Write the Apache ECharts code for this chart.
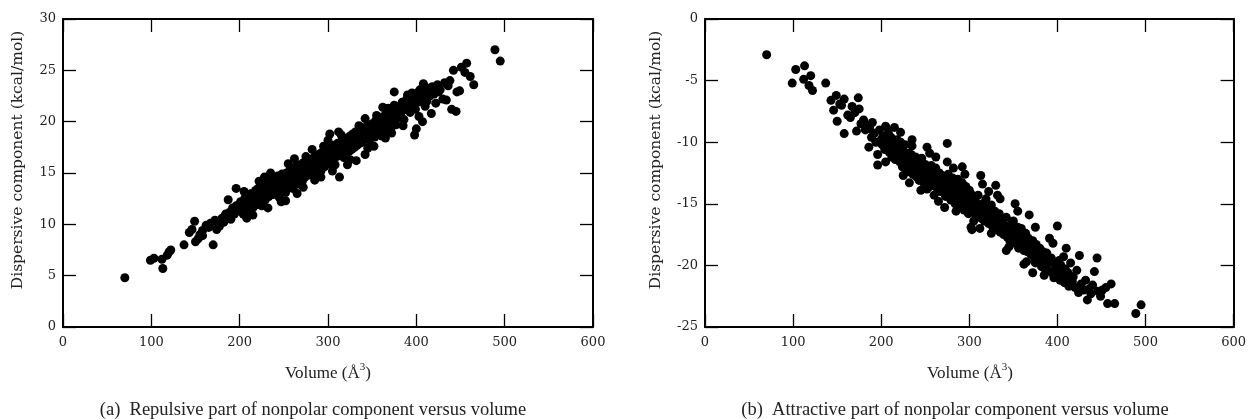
<!DOCTYPE html>
<html>
<head>
<meta charset="utf-8">
<script src="https://cdn.jsdelivr.net/npm/echarts@6/dist/echarts.min.js"></script>
<style>
html,body{margin:0;padding:0;background:#fff;}
#chart{width:1249px;height:419px;}
</style>
</head>
<body>
<div id="chart"></div>
<script>
// Volumes (Å^3) of the molecules, shared by both panels
const volume = [
70,99,103,112,113,118,120,122,137,143,146,149,150,153,155,158,158,162,165,167,
170,172,174,175,177,180,182,184,186,187,189,190,192,194,196,196,198,200,201,202,
204,205,206,207,208,209,210,211,212,213,214,215,216,217,218,219,220,221,222,223,
224,225,226,227,228,229,230,231,232,233,234,235,236,237,238,239,240,241,242,243,
244,245,246,247,248,249,250,251,252,253,254,255,256,257,258,259,260,261,262,263,
264,265,266,267,268,269,270,271,272,273,274,275,276,277,278,279,280,281,282,283,
284,285,286,287,288,289,290,291,292,293,294,295,296,297,298,299,300,300,301,302,
303,304,305,306,307,308,309,310,311,312,313,314,315,316,317,318,319,320,321,322,
323,324,325,326,327,328,329,330,331,332,333,334,335,336,337,338,339,340,341,342,
343,344,345,346,347,348,349,350,352,353,354,355,356,357,358,359,360,361,362,364,
365,366,367,368,369,370,372,373,374,375,376,377,378,380,381,382,384,385,386,388,
389,390,391,393,394,396,397,398,399,400,401,402,403,404,406,407,408,409,410,411,
412,413,415,417,418,420,422,424,425,427,430,432,434,436,438,440,442,445,446,449,
451,455,457,461,465,489,495,
205,215,225,235,245,255,265,275,285,295,305,315,325,335,345,355,365,375,385,395,
222,232,262,272,292,312,322,342,352,362,252,282,302,332,372
];
// (a) Repulsive part (kcal/mol)
const repulsive = [
4.8,6.5,6.7,6.6,5.7,7.0,7.3,7.5,8.0,9.2,9.5,10.3,8.3,8.6,9.0,8.9,9.4,9.9,9.7,10.1,
8.0,10.4,9.5,10.2,9.8,10.6,10.2,11.0,10.7,12.4,11.2,10.5,11.6,11.0,13.5,11.8,11.3,11.9,12.2,11.5,
11.0,12.4,11.7,12.8,10.6,12.0,11.4,12.6,11.9,13.0,12.2,11.6,12.9,12.4,13.3,11.9,12.7,13.5,12.1,13.0,
12.5,13.8,12.8,13.2,14.6,12.4,13.6,13.0,14.1,12.7,13.4,14.3,13.1,13.8,12.9,14.5,13.5,14.0,13.2,14.7,
13.7,14.2,13.4,12.2,14.9,14.0,13.6,14.4,13.1,15.0,14.2,13.8,14.6,15.3,14.0,14.8,13.5,15.1,14.4,15.6,
14.7,13.9,15.2,14.5,15.8,14.9,15.4,14.2,16.0,15.1,14.6,15.7,15.0,16.2,15.4,14.8,15.9,15.3,16.4,15.0,
15.8,16.6,15.5,16.1,14.9,16.8,15.7,16.3,15.2,17.0,16.0,16.5,15.6,17.2,16.2,16.8,18.2,15.9,16.6,17.4,
16.1,17.0,16.4,17.7,16.8,15.8,17.3,16.6,17.9,17.1,14.6,16.9,17.6,18.2,17.2,16.5,18.0,17.5,16.9,18.4,
17.7,17.1,18.6,17.9,17.3,18.8,18.1,17.5,19.0,18.3,17.7,18.9,18.5,17.9,19.2,18.6,18.0,19.4,18.8,16.8,
19.0,18.4,19.6,18.9,18.2,19.3,18.7,19.8,19.1,18.5,20.1,19.4,18.9,19.9,19.3,20.4,19.6,18.6,20.2,19.8,
20.7,19.2,20.3,21.3,19.9,20.5,19.5,20.9,20.1,22.9,20.6,19.7,21.2,20.4,21.5,20.8,21.9,21.1,20.2,21.7,
22.2,22.6,21.4,20.9,22.0,21.6,22.4,18.7,21.2,19.3,22.8,21.9,20.5,23.1,22.3,20.0,23.7,22.6,21.5,23.3,
22.0,23.0,22.5,20.8,23.4,22.7,21.8,23.6,22.9,23.1,22.2,23.8,22.1,23.5,24.0,21.2,25.0,21.0,22.9,23.0,
25.3,24.8,25.7,24.4,23.6,27.0,25.9,
13.2,10.9,11.8,15.0,12.6,15.9,13.0,16.6,14.3,17.6,15.2,18.7,16.3,19.6,17.4,20.6,18.4,21.6,19.6,22.8,
14.2,11.6,16.4,13.6,14.6,19.0,15.8,20.3,17.6,21.4,12.3,17.3,18.8,16.2,18.9
];
// (b) Attractive part (kcal/mol)
const attractive = [
-2.9,-5.2,-4.1,-4.9,-3.8,-5.4,-4.6,-5.8,-5.2,-6.6,-7.4,-6.2,-8.3,-6.9,-7.0,-6.5,-9.3,-7.8,-8.0,-7.1,
-7.6,-9.1,-6.4,-7.3,-8.5,-8.2,-9.0,-8.6,-10.4,-8.9,-9.6,-8.4,-9.3,-10.0,-11.0,-11.85,-9.0,-9.8,-10.2,-9.5,
-10.6,-8.7,-9.9,-10.4,-9.2,-10.8,-10.1,-9.6,-11.2,-10.5,-9.9,-10.9,-11.4,-10.3,-9.8,-11.0,-10.6,-11.6,-10.0,-11.1,
-12.0,-10.7,-11.5,-10.2,-11.9,-11.3,-12.4,-10.9,-11.7,-12.2,-11.0,-9.8,-12.6,-11.4,-12.0,-11.2,-12.8,-11.6,-12.3,-13.1,
-11.9,-12.6,-11.3,-12.9,-12.1,-13.4,-11.8,-12.5,-10.4,-13.0,-12.2,-13.6,-12.7,-11.9,-13.2,-12.4,-14.3,-13.0,-12.1,-13.7,
-12.8,-13.4,-12.5,-14.0,-13.1,-12.7,-13.8,-13.3,-12.9,-14.4,-13.5,-10.1,-12.6,-14.1,-13.2,-14.7,-13.6,-12.9,-14.3,-13.9,
-15.0,-13.4,-14.6,-13.0,-14.2,-15.2,-13.8,-14.5,-13.3,-14.9,-15.5,-14.0,-13.6,-15.1,-14.4,-15.8,-13.9,-14.7,-15.3,-14.2,
-17.1,-15.0,-14.5,-15.6,-14.8,-16.0,-15.2,-14.3,-15.9,-15.4,-12.7,-16.2,-15.0,-15.7,-16.4,-15.3,-14.6,-16.0,-15.5,-16.6,
-15.8,-16.3,-15.1,-16.8,-15.9,-16.5,-15.6,-13.5,-17.0,-16.2,-16.9,-15.8,-17.3,-16.4,-17.0,-16.6,-17.5,-16.8,-17.2,-16.1,
-17.7,-16.9,-17.4,-18.0,-16.7,-17.6,-17.1,-16.4,-18.2,-17.3,-17.9,-16.9,-18.6,-17.5,-18.1,-17.0,-18.4,-17.7,-18.8,-17.4,
-18.2,-18.9,-17.8,-15.9,-18.5,-19.1,-18.0,-18.7,-19.4,-19.8,-18.3,-19.0,-19.6,-18.6,-19.2,-20.1,-18.9,-19.5,-20.3,-19.0,
-19.8,-20.4,-17.8,-19.4,-20.6,-21.0,-19.9,-20.7,-20.2,-16.8,-20.5,-19.6,-21.2,-20.0,-20.8,-19.3,-21.4,-20.3,-18.6,-21.0,
-20.6,-21.7,-19.8,-21.3,-20.9,-21.8,-20.4,-22.2,-19.2,-21.5,-22.0,-21.2,-22.8,-21.9,-22.3,-21.6,-20.5,-19.4,-22.1,-22.5,
-22.0,-21.8,-23.1,-21.5,-23.1,-23.9,-23.2,
-11.6,-8.8,-12.7,-10.3,-13.9,-10.9,-14.8,-11.6,-15.6,-12.6,-16.4,-13.4,-17.4,-14.6,-18.5,-15.6,-19.7,-16.9,-20.8,-18.2,
-9.2,-13.3,-11.2,-15.3,-12.0,-17.0,-14.0,-18.8,-15.0,-19.9,-13.8,-12.1,-16.9,-14.3,-20.6
];
const xTicks = [0,100,200,300,400,500,600];
const yTicksA = [0,5,10,15,20,25,30];
const yTicksB = [-25,-20,-15,-10,-5,0];
const captionA = '(a)  Repulsive part of nonpolar component versus volume';
const captionB = '(b)  Attractive part of nonpolar component versus volume';
const yName = 'Dispersive component (kcal/mol)';

const ptsA = volume.map((v,i)=>[v, repulsive[i]]);
const ptsB = volume.map((v,i)=>[v, attractive[i]]);

const labelFont = 'DejaVu Serif';
const capFont = 'Liberation Serif';
const lineStyle = {color:'#000', width:2};
const tickStyle = {color:'#000', width:1.3};

function xAx(grid, pos, labels){
  return {
    type:'value', gridIndex:grid, position:pos, min:xTicks[0], max:xTicks[xTicks.length-1], interval:100,
    axisLine:{show:true, onZero:false, lineStyle:lineStyle},
    axisTick:{show:true, inside:true, length:13, lineStyle:tickStyle},
    axisLabel:{show:labels, color:'#222', fontFamily:labelFont, fontSize:13, margin:9},
    splitLine:{show:false}
  };
}
function yAx(grid, pos, labels, ticks){
  return {
    type:'value', gridIndex:grid, position:pos, min:ticks[0], max:ticks[ticks.length-1], interval:5,
    axisLine:{show:true, onZero:false, lineStyle:lineStyle},
    axisTick:{show:true, inside:true, length:13, lineStyle:tickStyle},
    axisLabel:{show:labels, color:'#222', fontFamily:labelFont, fontSize:13, margin:7},
    splitLine:{show:false}
  };
}

const chart = echarts.init(document.getElementById('chart'));
chart.setOption({
  animation:false,
  backgroundColor:'#fff',
  grid:[
    {left:63, top:19, width:530, height:308},
    {left:705, top:19, width:530, height:308}
  ],
  xAxis:[xAx(0,'bottom',true), xAx(0,'top',false), xAx(1,'bottom',true), xAx(1,'top',false)],
  yAxis:[yAx(0,'left',true,yTicksA), yAx(0,'right',false,yTicksA), yAx(1,'left',true,yTicksB), yAx(1,'right',false,yTicksB)],
  series:[
    {type:'scatter', xAxisIndex:0, yAxisIndex:0, data:ptsA, symbolSize:9, itemStyle:{color:'#000', opacity:1}},
    {type:'scatter', xAxisIndex:2, yAxisIndex:2, data:ptsB, symbolSize:9, itemStyle:{color:'#000', opacity:1}}
  ],
  graphic:[
    {type:'text', x:18, y:160, rotation:Math.PI/2, style:{text:yName, fontFamily:labelFont, fontSize:15.5, fill:'#222', align:'center', verticalAlign:'middle'}},
    {type:'text', x:656, y:160, rotation:Math.PI/2, style:{text:yName, fontFamily:labelFont, fontSize:15.5, fill:'#222', align:'center', verticalAlign:'middle'}},
    {type:'text', x:328, y:374, style:{text:'Volume (Å{s|3})', rich:{s:{fontSize:11, fontFamily:capFont, fill:'#222', padding:[0,0,14,0]}}, fontFamily:capFont, fontSize:17, fill:'#222', align:'center', verticalAlign:'middle'}},
    {type:'text', x:970, y:374, style:{text:'Volume (Å{s|3})', rich:{s:{fontSize:11, fontFamily:capFont, fill:'#222', padding:[0,0,14,0]}}, fontFamily:capFont, fontSize:17, fill:'#222', align:'center', verticalAlign:'middle'}},
    {type:'text', x:313, y:410, style:{text:captionA, fontFamily:capFont, fontSize:18.5, fill:'#222', align:'center', verticalAlign:'middle'}},
    {type:'text', x:955, y:410, style:{text:captionB, fontFamily:capFont, fontSize:18.5, fill:'#222', align:'center', verticalAlign:'middle'}}
  ]
});
</script>
</body>
</html>
